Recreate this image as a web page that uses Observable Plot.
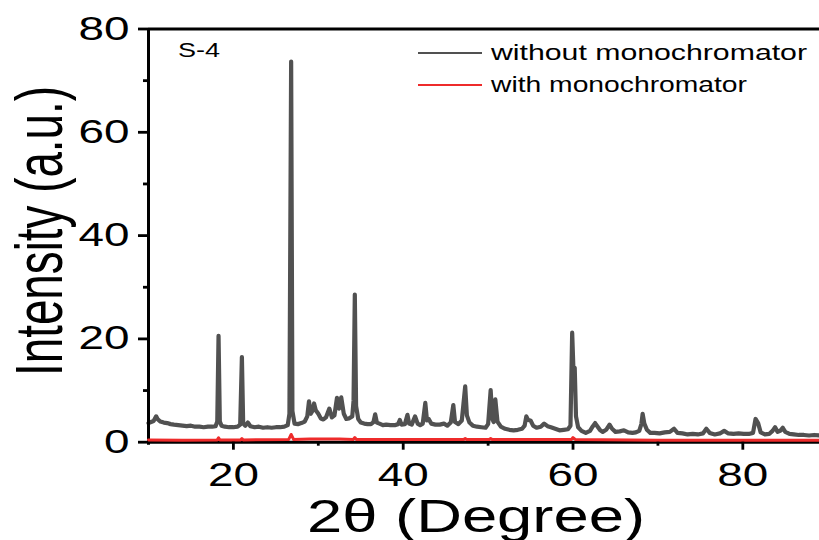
<!DOCTYPE html>
<html>
<head>
<meta charset="utf-8">
<script src="https://cdn.jsdelivr.net/npm/d3@7"></script>
<script src="https://cdn.jsdelivr.net/npm/@observablehq/plot@0.6"></script>
<style>
  html, body { margin: 0; padding: 0; background: #fff; }
  #chart { width: 819px; height: 540px; overflow: hidden; }
</style>
</head>
<body>
<div id="chart"></div>
<script>
// 2θ (degree) and intensity for the pattern without monochromator
const grayTheta = [10.0,10.3,10.6,10.9,11.1,11.4,11.8,12.2,12.6,13.0,13.5,14.0,14.5,15.0,15.5,16.0,16.5,17.0,17.5,17.9,18.1,18.25,18.4,18.6,19.0,19.5,20.0,20.5,20.8,21.0,21.15,21.4,21.7,22.0,22.5,23.0,23.5,24.0,24.5,25.0,25.5,26.0,26.4,26.6,26.8,26.95,27.2,27.6,28.0,28.4,28.7,28.9,29.1,29.3,29.5,29.7,30.0,30.3,30.6,30.9,31.3,31.6,31.9,32.2,32.45,32.7,33.0,33.3,33.6,34.0,34.15,34.3,34.45,34.7,35.0,35.4,35.8,36.2,36.5,36.7,36.9,37.2,37.6,38.0,38.5,39.0,39.4,39.6,39.8,40.2,40.5,40.7,41.0,41.4,41.7,42.0,42.3,42.6,42.8,43.0,43.3,43.8,44.3,44.8,45.2,45.6,45.9,46.1,46.5,46.9,47.1,47.3,47.5,47.8,48.2,48.7,49.2,49.7,50.0,50.3,50.5,50.65,50.85,51.1,51.5,52.0,52.5,53.0,53.5,54.0,54.3,54.5,54.7,55.0,55.3,55.7,56.2,56.6,57.0,57.4,57.9,58.4,58.9,59.4,59.7,59.9,60.05,60.2,60.35,60.6,61.0,61.5,62.0,62.3,62.6,62.9,63.2,63.5,63.9,64.3,64.6,65.0,65.5,66.0,66.5,67.0,67.4,67.8,68.05,68.2,68.4,68.7,69.1,69.6,70.2,70.8,71.4,71.9,72.3,72.9,73.5,74.1,74.7,75.3,75.7,76.1,76.7,77.3,77.8,78.3,78.9,79.5,80.1,80.7,81.2,81.5,81.8,82.1,82.6,83.1,83.5,83.8,84.1,84.4,84.7,85.0,85.5,86.0,86.6,87.2,87.8,88.4,89.1];
const grayIntensity = [3.7,3.9,4.1,5.0,4.4,4.0,3.8,3.7,3.5,3.4,3.3,3.2,3.1,3.2,3.0,3.0,2.9,3.0,3.0,3.1,4.0,20.6,4.0,3.2,3.0,2.9,2.9,3.0,3.4,16.5,3.6,3.2,3.8,3.1,2.9,3.0,2.8,2.9,2.8,2.9,2.9,3.0,3.3,5.5,73.7,6.0,3.6,3.5,3.7,4.0,5.0,7.9,5.5,6.0,7.5,6.2,5.5,4.6,4.4,4.8,6.5,4.8,5.2,8.6,6.5,8.7,5.5,4.5,4.6,5.0,8.0,28.6,7.0,4.5,3.8,3.6,3.5,3.5,3.9,5.4,3.8,3.6,3.3,3.4,3.3,3.3,3.5,4.3,3.4,3.5,5.3,3.6,3.4,5.0,3.6,3.3,3.6,7.6,4.2,4.5,3.6,3.4,3.4,3.6,3.2,3.8,7.2,3.9,3.5,4.2,7.5,10.8,5.2,3.8,3.2,3.0,2.9,2.8,3.5,10.1,4.5,3.9,8.3,4.0,3.0,2.6,2.4,2.3,2.4,2.6,3.2,5.0,4.3,4.2,3.2,2.8,3.0,3.6,3.1,2.9,2.6,2.3,2.4,2.5,3.2,21.2,14.0,14.4,5.0,2.9,2.2,1.8,2.2,3.0,3.7,3.0,2.3,2.0,2.4,3.4,2.6,2.0,2.1,2.3,1.9,1.8,1.9,2.2,3.5,5.5,3.6,2.4,1.8,1.8,1.7,1.9,2.0,2.6,1.8,1.7,1.5,1.6,1.5,1.7,2.6,1.8,1.5,1.7,2.2,1.7,1.6,1.7,1.6,1.6,1.8,4.5,3.7,1.9,1.5,1.6,2.2,2.9,2.0,2.2,2.8,2.0,1.6,1.5,1.4,1.4,1.3,1.4,1.3];

// 2θ (degree) and intensity for the pattern with monochromator
const redTheta = [10.0,14.0,18.1,18.25,18.4,20.85,21.0,21.15,26.5,26.8,27.1,29.0,32.5,34.1,34.3,34.5,47.1,47.3,47.5,50.1,50.3,50.5,59.8,60.0,60.3,70.0,89.1];
const redIntensity = [0.45,0.4,0.45,0.85,0.45,0.45,0.7,0.45,0.5,1.5,0.5,0.6,0.6,0.5,0.9,0.5,0.5,0.7,0.5,0.5,0.7,0.5,0.5,0.9,0.5,0.4,0.4];

const yMajorTicks = [0, 20, 40, 60, 80];
const yMinorTicks = [10, 30, 50, 70];
const xMajorTicks = [20, 40, 60, 80];
const xMinorTicks = [30, 50, 70];

const seriesNames = ["without monochromator", "with monochromator"];
const seriesColors = ["#515151", "#ee2b2b"];
const sampleLabel = "S-4";
const xTitle = "2θ (Degree)";
const yTitle = "Intensity (a.u.)";

const gray = grayTheta.map((t, i) => ({theta: t, intensity: grayIntensity[i]}));
const red = redTheta.map((t, i) => ({theta: t, intensity: redIntensity[i]}));

const FONT = "'Liberation Sans', Arial, Helvetica, sans-serif";

const svg = Plot.plot({
  width: 819,
  height: 540,
  marginLeft: 148,
  marginRight: 0,
  marginTop: 28.5,
  marginBottom: 98.3,
  style: {fontFamily: FONT, background: "white", color: "black", overflow: "visible"},
  x: {domain: [10, 89.03], label: null},
  y: {domain: [0, 80], label: null},
  marks: [
    Plot.line(gray, {x: "theta", y: "intensity", stroke: seriesColors[0], strokeWidth: 4.2, strokeLinejoin: "round"}),
    Plot.ruleY([0], {stroke: "black", strokeWidth: 3}),
    Plot.ruleY([80], {stroke: "black", strokeWidth: 3}),
    Plot.ruleX([10], {stroke: "black", strokeWidth: 3, y1: -0.6, y2: 80}),
    Plot.line(red, {x: "theta", y: "intensity", stroke: seriesColors[1], strokeWidth: 3}),
    Plot.axisY({ticks: yMajorTicks, tickSize: 10, tickFormat: () => "", strokeWidth: 2.8, label: null}),
    Plot.axisY({ticks: yMinorTicks, tickSize: 5, tickFormat: () => "", strokeWidth: 2.8, label: null}),
    Plot.axisX({ticks: xMajorTicks, tickSize: 8, tickFormat: () => "", strokeWidth: 2.8, label: null}),
    Plot.axisX({ticks: xMinorTicks, tickSize: 4, tickFormat: () => "", strokeWidth: 2.8, label: null}),
    Plot.text(yMajorTicks, {x: () => 10, y: d => d, text: d => String(d), dx: -19, textAnchor: "end", lineAnchor: "middle", fontSize: 33, fill: "black"}),
    Plot.text(xMajorTicks, {x: d => d, y: () => 0, text: d => String(d), dy: 20, textAnchor: "middle", lineAnchor: "top", fontSize: 33, fill: "black"})
  ]
});

document.getElementById("chart").appendChild(svg);

// widen tick label glyphs horizontally as in the reference
const perDigit = 25.5;
d3.select(svg).selectAll("text").each(function() {
  const s = this.textContent.trim();
  if (/^\d+$/.test(s)) {
    d3.select(this)
      .attr("textLength", s.length * perDigit)
      .attr("lengthAdjust", "spacingAndGlyphs")
      .style("font-size", "33px");
  }
});

const root = d3.select(svg);
const g = root.append("g").attr("font-family", FONT).attr("fill", "black").attr("text-anchor", "start");

// sample label
g.append("text").attr("x", 178).attr("y", 57).attr("font-size", 21).attr("text-anchor", "start")
  .attr("textLength", 42).attr("lengthAdjust", "spacingAndGlyphs").text(sampleLabel);

// legend
const legendY = [53, 85];
const legendW = [316, 256];
seriesNames.forEach((name, i) => {
  g.append("line").attr("x1", 418).attr("x2", 482).attr("y1", legendY[i]).attr("y2", legendY[i])
    .attr("stroke", seriesColors[i]).attr("stroke-width", 2);
  g.append("text").attr("x", 491).attr("y", legendY[i] + 7).attr("font-size", 22).attr("text-anchor", "start")
    .attr("textLength", legendW[i]).attr("lengthAdjust", "spacingAndGlyphs").text(name);
});

// axis titles
g.append("text").attr("x", 476).attr("y", 531.5).attr("font-size", 47).attr("text-anchor", "middle")
  .attr("textLength", 338).attr("lengthAdjust", "spacingAndGlyphs").text(xTitle);
g.append("text").attr("transform", "translate(62,231) scale(1.35,1) rotate(-90)")
  .attr("font-size", 49).attr("text-anchor", "middle")
  .attr("textLength", 290).attr("lengthAdjust", "spacingAndGlyphs").text(yTitle);
</script>
</body>
</html>
